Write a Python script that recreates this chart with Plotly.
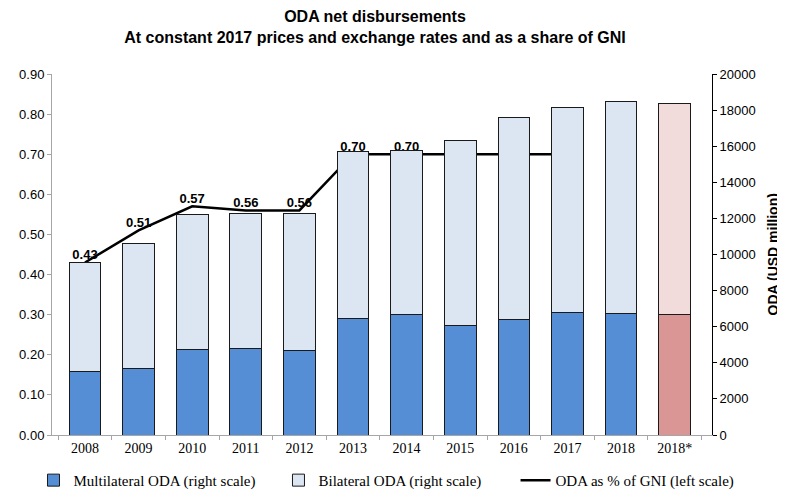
import plotly.graph_objects as go

# ODA data (USD million, constant 2017 prices) and ODA/GNI ratio
years = ["2008", "2009", "2010", "2011", "2012", "2013", "2014", "2015",
         "2016", "2017", "2018", "2018*"]
multilateral = [3510, 3690, 4730, 4780, 4670, 6440, 6650, 6040, 6390, 6800, 6740, 6700]
total_oda = [9530, 10620, 12200, 12280, 12280, 15700, 15750, 16340, 17600, 18150, 18450, 18380]
bilateral = [t - m for t, m in zip(total_oda, multilateral)]

gni_years = ["2008", "2009", "2010", "2011", "2012", "2013", "2014", "2015", "2016", "2017"]
gni_share = [0.43, 0.51, 0.57, 0.56, 0.56, 0.70, 0.70, 0.70, 0.70, 0.70]
gni_labels = ["0.43", "0.51", "0.57", "0.56", "0.56", "0.70", "0.70", "0.70", "0.70", "0.70"]

est_year = ["2018*"]
est_share = [0.70]
est_label = ["0.70"]

multi_colors = ["#558ED5"] * 11 + ["#D99694"]
bi_colors = ["#DCE6F2"] * 11 + ["#F2DCDB"]

SANS = "Liberation Sans, Arial, sans-serif"
SERIF = "Liberation Serif, Times New Roman, serif"

fig = go.Figure()

fig.add_trace(go.Bar(
    x=years, y=multilateral, name="Multilateral ODA (right scale)",
    marker=dict(color=multi_colors, line=dict(color="#1a1a1a", width=1)),
    yaxis="y2", legend="legend",
))
fig.add_trace(go.Bar(
    x=years, y=bilateral, name="Bilateral ODA (right scale)",
    marker=dict(color=bi_colors, line=dict(color="#1a1a1a", width=1)),
    yaxis="y2", legend="legend2",
))
fig.add_trace(go.Scatter(
    x=gni_years, y=gni_share, name="ODA as % of GNI (left scale)",
    mode="lines+text", text=gni_labels, textposition="top center",
    textfont=dict(family=SANS, size=13, color="#000000", weight="bold"),
    line=dict(color="#000000", width=2.5),
    yaxis="y", legend="legend3",
))
fig.add_trace(go.Scatter(
    x=est_year, y=est_share, mode="markers+text", text=est_label,
    textposition="top center",
    textfont=dict(family=SANS, size=13, color="#000000", weight="bold"),
    marker=dict(color="#FF0000", size=7, line=dict(color="#800000", width=1)),
    showlegend=False, yaxis="y",
))

# the page body adds an 8px margin, so the figure is sized to fit the window
legend_style = dict(
    orientation="h", xref="container", xanchor="left", y=-0.08, yanchor="top",
    font=dict(family=SERIF, size=15, color="#000000"), itemwidth=30,
)

fig.update_layout(
    width=777, height=482,
    barmode="stack", bargap=0.41,
    plot_bgcolor="#FFFFFF", paper_bgcolor="#FFFFFF",
    margin=dict(l=44, r=73, t=66, b=55, autoexpand=False),
    title=dict(
        text="<b>ODA net disbursements<br>At constant 2017 prices and exchange rates and as a share of GNI</b>",
        x=0.4723, xanchor="center", y=0.971, yanchor="top",
        font=dict(family="Liberation Sans Narrow, Arial Narrow, " + SANS, size=16, color="#000000"),
    ),
    xaxis=dict(
        type="category", showline=True, linecolor="#A6A6A6", linewidth=1,
        ticks="outside", tickson="boundaries", tickcolor="#A6A6A6", ticklen=4,
        tickfont=dict(family=SERIF, size=14, color="#000000"),
        showgrid=False,
    ),
    yaxis=dict(
        range=[0, 0.9], dtick=0.1, tickformat=".2f",
        showline=True, linecolor="#A6A6A6", linewidth=1,
        ticks="outside", tickcolor="#A6A6A6", ticklen=4,
        tickfont=dict(family=SANS, size=13, color="#000000"),
        showgrid=False, zeroline=False,
    ),
    yaxis2=dict(
        range=[0, 20000], dtick=2000, tickformat="d", overlaying="y", side="right",
        showline=True, linecolor="#000000", linewidth=1,
        ticks="outside", tickcolor="#000000", ticklen=4,
        tickfont=dict(family=SANS, size=13, color="#000000"),
        showgrid=False, zeroline=False,
    ),
    legend=dict(legend_style, x=0.0328),
    legend2=dict(legend_style, x=0.3481),
    legend3=dict(legend_style, x=0.6532),
)

# right axis title as an annotation (axis title misplaces with fixed margins)
fig.add_annotation(
    text="<b>ODA (USD million)</b>", textangle=-90,
    xref="paper", yref="paper", x=1.0924, y=0.5,
    xanchor="center", yanchor="middle", showarrow=False,
    font=dict(family=SANS, size=14, color="#000000"),
)

fig.write_html("out.html")
